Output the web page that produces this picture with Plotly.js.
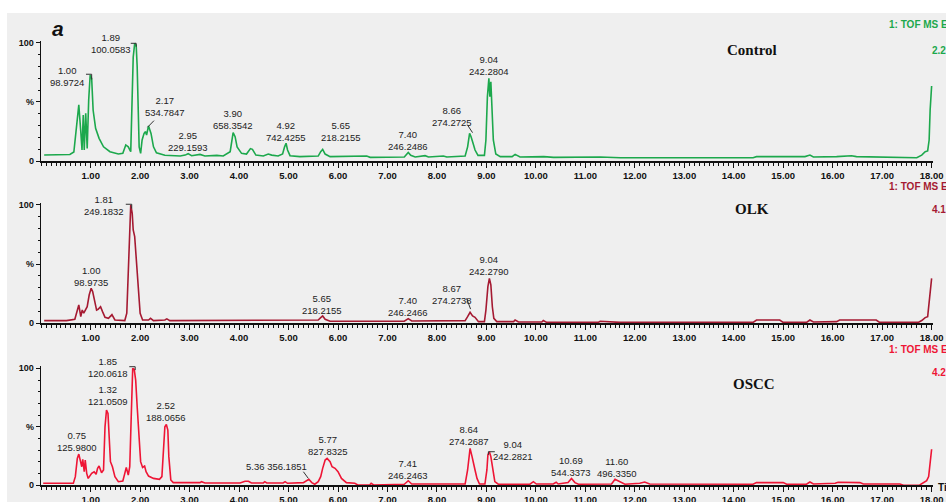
<!DOCTYPE html>
<html><head><meta charset="utf-8">
<script src="https://cdn.plot.ly/plotly-3.0.1.min.js"></script>
<style>html,body{margin:0;padding:0;background:#fff;}#chart{width:946px;height:502px;}</style>
</head><body><div id="chart"></div>
<script>
// ---- data: [retention time (min), relative intensity (%)] ----
const controlPts = [[0.06,5.1],[0.58,5.5],[0.66,7.6],[0.72,29],[0.76,47.5],[0.80,25],[0.825,9.3],[0.85,39],[0.87,9.3],[0.90,40.4],[0.93,10.7],[0.96,51.7],[0.99,72.9],[1.02,70],[1.05,43],[1.10,27.7],[1.17,19.2],[1.26,12],[1.39,7.9],[1.56,5.9],[1.65,6.5],[1.71,13.6],[1.76,12],[1.81,7.9],[1.84,51.7],[1.86,88],[1.89,99.7],[1.92,98],[1.94,80],[1.96,43],[1.98,12],[2.01,6.5],[2.04,17.8],[2.08,23.4],[2.11,24.9],[2.13,22],[2.17,29.7],[2.22,23.4],[2.27,12],[2.33,7],[2.50,4.8],[2.81,4.2],[2.91,5],[2.97,6.2],[3.04,4.5],[3.21,5.6],[3.31,4.2],[3.55,4.8],[3.68,4.2],[3.82,7.9],[3.85,17.8],[3.88,24],[3.92,20.6],[3.96,12],[4.05,6.5],[4.15,5.9],[4.23,10.5],[4.27,9.9],[4.34,5],[4.49,4.2],[4.59,5.9],[4.66,5],[4.79,4.2],[4.88,5.9],[4.92,12],[4.95,15],[4.98,9.3],[5.03,4.5],[5.23,3.7],[5.60,4.2],[5.65,7.9],[5.69,9.9],[5.74,5.9],[5.84,3.7],[6.58,4.2],[6.65,3.1],[7.34,3.4],[7.39,5.9],[7.42,7.3],[7.47,4.8],[7.56,3.4],[7.76,4.5],[7.83,3.4],[8.13,4.2],[8.20,3.4],[8.57,4.2],[8.62,12],[8.66,23.4],[8.69,20.6],[8.73,15],[8.77,9.3],[8.83,4.8],[8.96,4.8],[8.99,17.8],[9.02,54.5],[9.05,70],[9.07,54.5],[9.09,67.2],[9.12,37.6],[9.14,17.8],[9.19,5.9],[9.28,3.7],[9.52,3.7],[9.58,5.6],[9.68,3.4],[10.16,3.7],[10.36,3.1],[11.30,3.4],[11.71,2.8],[14.39,2.8],[14.46,3.7],[15.00,3.4],[15.44,3.7],[15.54,5],[15.61,3.4],[16.08,3.7],[16.28,4.5],[16.38,4.5],[16.48,3.7],[16.88,3.4],[16.95,2.8],[17.70,2.8],[17.80,5],[17.87,7.9],[17.92,8.5],[17.95,17.8],[17.97,43],[18.00,63.6]];

const olkPts = [[0.06,2.3],[0.51,2.3],[0.68,3.4],[0.73,11.2],[0.76,15.5],[0.80,5.6],[0.83,11.2],[0.86,8.5],[0.90,11.2],[0.93,14],[0.97,23.9],[1.01,29.6],[1.04,26.8],[1.08,19.7],[1.12,11.2],[1.15,11.8],[1.20,14],[1.24,9.9],[1.29,5.1],[1.36,4.2],[1.43,7.3],[1.49,2.8],[1.69,2.3],[1.73,8.5],[1.76,45],[1.79,84.5],[1.81,100],[1.84,93],[1.86,78.9],[1.89,73.2],[1.92,53.5],[1.96,28.2],[2.00,8.5],[2.05,2.8],[2.17,2.8],[2.21,4.2],[2.27,2.3],[2.50,2.8],[2.54,3.7],[2.60,2.3],[5.60,2.8],[5.65,4.8],[5.69,6.2],[5.74,3.4],[5.84,1.7],[7.34,1.7],[7.42,3.9],[7.49,2],[8.57,2.3],[8.62,5.6],[8.67,9.3],[8.72,6.2],[8.77,5.1],[8.84,1.4],[8.96,1.4],[8.99,11.2],[9.03,31],[9.06,38],[9.09,32.4],[9.12,14],[9.15,4.2],[9.21,1.4],[9.55,1.4],[9.58,2.8],[9.65,1.1],[10.12,1.1],[10.15,2.3],[10.22,0.8],[11.26,0.8],[11.30,1.7],[11.70,0.8],[14.39,0.8],[14.46,2.8],[14.93,2.8],[15.00,0.8],[15.47,0.8],[15.54,2.8],[15.61,1.1],[16.08,1.4],[16.14,2.8],[16.88,2.8],[16.95,0.8],[17.73,0.8],[17.80,2.3],[17.87,4.8],[17.92,5.6],[17.95,16.9],[17.98,28.2],[18.00,38]];

const osccPts = [[0.04,1.7],[0.65,1.7],[0.69,7.4],[0.73,23],[0.76,26.7],[0.79,20.2],[0.82,15.9],[0.84,22.1],[0.87,11.6],[0.89,21.6],[0.92,10.2],[0.95,5.9],[1.02,10.2],[1.07,11.6],[1.11,9.4],[1.14,14.5],[1.17,16.5],[1.22,10.8],[1.26,13.1],[1.29,50],[1.32,64.4],[1.35,61.5],[1.38,41.6],[1.40,20.2],[1.44,15.9],[1.49,7.4],[1.56,3.1],[1.65,3.7],[1.69,10.2],[1.72,15.3],[1.76,8.8],[1.79,15.9],[1.82,58.6],[1.85,100],[1.88,99.2],[1.91,90],[1.94,67.4],[1.98,38.9],[2.01,20.2],[2.05,15.3],[2.09,16.5],[2.12,11.6],[2.17,7.9],[2.27,5.9],[2.39,5.1],[2.44,7.4],[2.47,30.2],[2.50,50],[2.53,52],[2.56,47.2],[2.58,24.5],[2.62,4.6],[2.67,2.3],[3.21,2.3],[3.24,3.1],[3.31,2],[4.02,2],[4.12,3.4],[4.19,3.4],[4.25,2],[4.49,2],[4.52,3.1],[4.56,2],[4.89,2],[4.93,3.1],[4.98,1.7],[5.30,2.3],[5.37,4.6],[5.41,5.2],[5.47,2.3],[5.53,0.9],[5.60,3.1],[5.65,7.4],[5.69,14.5],[5.74,21.6],[5.78,23],[5.84,20.2],[5.88,15.9],[5.94,14.5],[6.00,11.6],[6.07,5.9],[6.17,2.3],[6.34,1.7],[6.40,0.3],[6.64,0.3],[6.67,1.7],[6.72,0.3],[7.34,0.9],[7.42,3.9],[7.49,1.1],[8.57,1.1],[8.62,13.1],[8.65,28.7],[8.67,31.6],[8.71,24.5],[8.74,17.4],[8.77,13.1],[8.81,5.9],[8.86,1.1],[8.97,1.1],[9.01,13.1],[9.03,25.9],[9.06,28.7],[9.09,24.5],[9.13,11.6],[9.17,3.1],[9.24,0.9],[9.88,0.9],[9.95,3.1],[10.01,1.1],[10.35,1.1],[10.41,2.6],[10.45,1.1],[10.65,2.3],[10.72,5.9],[10.79,2.3],[10.86,0.9],[11.53,1.1],[11.60,5.2],[11.66,4],[11.73,2.3],[11.80,0.9],[12.10,1.7],[12.20,2.8],[12.30,1.1],[14.39,0.9],[14.46,2.3],[15.00,2.3],[15.07,0.9],[15.47,0.9],[15.54,2.8],[15.61,1.1],[16.05,1.7],[16.11,2.6],[16.55,2.3],[16.62,1.1],[17.36,1.1],[17.43,0],[17.76,0.3],[17.83,2.3],[17.90,4],[17.94,7.4],[17.97,18.8],[18.00,30.8]];

// peak labels: [retention time text, m/z text]
const controlPeaks = [['1.00','98.9724'],['1.89','100.0583'],['2.17','534.7847'],['2.95','229.1593'],['3.90','658.3542'],['4.92','742.4255'],['5.65','218.2155'],['7.40','246.2486'],['8.66','274.2725'],['9.04','242.2804']];
const olkPeaks = [['1.81','249.1832'],['1.00','98.9735'],['5.65','218.2155'],['7.40','246.2466'],['8.67','274.2738'],['9.04','242.2790']];
const osccPeaks = [['1.85','120.0618'],['1.32','121.0509'],['2.52','188.0656'],['0.75','125.9800'],['5.36','356.1851'],['5.77','827.8325'],['7.41','246.2463'],['8.64','274.2687'],['9.04','242.2821'],['10.69','544.3373'],['11.60','496.3350']];

const panelNames = ['Control','OLK','OSCC'];
const panelScale = ['2.20e6','4.10e6','4.21e6'];
const xTickVals = [1,2,3,4,5,6,7,8,9,10,11,12,13,14,15,16,17,18];
const yTickVals = [0,50,100];
const yTickText = ['0','%','100'];

// ---- layout / positions ----
const controlLabelPos = [[0.52,72],[1.42,99.3],[2.51,46.3],[2.97,16.5],[3.88,35.3],[4.94,24.8],[6.07,24.6],[7.42,17.1],[8.30,38],[9.06,80.7]];
const olkLabelPos = [[1.27,99.3],[1.01,39.8],[5.67,16.1],[7.42,14.4],[8.30,24.6],[9.06,48.6]];
const osccLabelPos = [[1.36,100.4],[1.36,76.9],[2.52,63.3],[0.72,37.3],[4.76,15.9],[5.80,34],[7.42,13.1],[8.65,42.7],[9.54,29.5],[10.72,16.2],[11.63,15.6]];

const colors = ['#1ca84c','#a51a32','#ee1535'];
const W = 946, H = 502;
const xDomain = [41.2/W, 933.1/W];
const yDomains = [[1-161/H, 1-40.6/H],[1-323.3/H, 1-202.6/H],[1-485.3/H, 1-366/H]];
const allPts = [controlPts, olkPts, osccPts];
const allPeaks = [controlPeaks, olkPeaks, osccPeaks];
const allPos = [controlLabelPos, olkLabelPos, osccLabelPos];

const lblFont = {family:'Liberation Sans, Arial, sans-serif', size:9.5, color:'#222'};
const traces = [], annotations = [], shapes = [];
const layout = {
  width: W, height: H, margin:{l:0,r:0,t:0,b:0},
  paper_bgcolor:'#ffffff', plot_bgcolor:'rgba(0,0,0,0)', showlegend:false
};
shapes.push({type:'rect', xref:'paper', yref:'paper', x0:7/W, x1:1, y0:0, y1:1-13/H, fillcolor:'#efefef', line:{width:0}, layer:'below'});

for (let p = 0; p < 3; p++) {
  const sfx = p === 0 ? '' : String(p+1);
  traces.push({
    type:'scatter', mode:'lines',
    x: allPts[p].map(d => d[0]), y: allPts[p].map(d => d[1]),
    xaxis:'x'+sfx, yaxis:'y'+sfx,
    line:{color:colors[p], width:1.6}, hoverinfo:'skip'
  });
  layout['xaxis'+sfx] = {
    domain:xDomain, range:[0,18.03], anchor:'y'+sfx,
    showline:true, linecolor:'#111', linewidth:1.6, showgrid:false, zeroline:false,
    tickmode:'array', tickvals:xTickVals, ticktext:xTickVals.map(v => v.toFixed(2)),
    ticks:'outside', ticklen:5, tickwidth:1, tickcolor:'#111',
    tickfont:{family:'Liberation Sans, Arial, sans-serif', size:9.5, color:'#111', weight:'bold'},
    minor:{tickmode:'linear', tick0:0, dtick:0.1, ticks:'outside', ticklen:3, tickwidth:1, tickcolor:'#111', showgrid:false},
    fixedrange:true
  };
  layout['yaxis'+sfx] = {
    domain:yDomains[p], range:[0,102], anchor:'x'+sfx,
    showline:true, linecolor:'#111', linewidth:1.5, showgrid:false, zeroline:false,
    tickmode:'array', tickvals:yTickVals, ticktext:yTickText,
    ticks:'outside', ticklen:4, tickwidth:1, tickcolor:'#111',
    tickfont:{family:'Liberation Sans, Arial, sans-serif', size:9, color:'#111', weight:'bold'},
    minor:{tickmode:'linear', tick0:0, dtick:10, ticks:'outside', ticklen:2, tickwidth:1, tickcolor:'#111', showgrid:false},
    fixedrange:true
  };
  allPeaks[p].forEach((pk, i) => {
    const txt = (p === 2 && pk[0] === '5.36') ? pk[0] + ' ' + pk[1] : pk[0] + '<br>' + pk[1];
    annotations.push({xref:'x'+sfx, yref:'y'+sfx, x:allPos[p][i][0], y:allPos[p][i][1],
      text:txt, showarrow:false, font:lblFont, xanchor:'center', yanchor:'middle', align:'center'});
  });
  const topY = yDomains[p][1];
  const yScalePx = [1-50/H, 1-209.3/H, 1-372.7/H][p];
  const yTofPx = [1-25/H, 1-186.7/H, 1-349/H][p];
  const yNamePx = [1-50/H, 1-209.3/H, 1-384/H][p];
  annotations.push({xref:'paper', yref:'paper', x:886.7/W, y:yTofPx, xanchor:'left', yanchor:'middle', showarrow:false,
    text:'1: TOF MS ES+', font:{family:'Liberation Sans, Arial, sans-serif', size:10, color:colors[p], weight:'bold'}});
  annotations.push({xref:'paper', yref:'paper', x:930/W, y:yScalePx, xanchor:'left', yanchor:'middle', showarrow:false,
    text:panelScale[p], font:{family:'Liberation Sans, Arial, sans-serif', size:10, color:colors[p], weight:'bold'}});
  annotations.push({xref:'paper', yref:'paper', x:[752,751.7,754][p]/W, y:yNamePx, xanchor:'center', yanchor:'middle', showarrow:false,
    text:panelNames[p], font:{family:'Liberation Serif, Times New Roman, serif', size:15, color:'#111', weight:'bold'}});
}

// label brackets / leader lines (decoration)
const leaders = [
  ['', [[0.905,73.5],[1.02,73.5],[1.02,69]]],
  ['', [[1.81,99.7],[1.92,99.7],[1.92,96.8]]],
  ['', [[2.15,28.6],[2.28,34.2]]],
  ['', [[8.63,29.7],[8.72,24]]],
  ['2', [[1.71,100.6],[1.83,100.6],[1.83,97]]],
  ['2', [[8.60,21],[8.68,12]]],
  ['3', [[1.78,101.4],[1.90,101.4],[1.90,98.5]]],
  ['3', [[5.30,11.6],[5.40,5.9]]],
  ['3', [[9.04,26],[9.04,28.7],[9.17,28.7]]]
];
leaders.forEach(l => {
  const pts = l[1];
  let path = 'M' + pts.map(q => q[0] + ',' + q[1]).join(' L');
  shapes.push({type:'path', xref:'x'+l[0], yref:'y'+l[0], path:path, line:{color:'#333', width:1}});
});

annotations.push({xref:'paper', yref:'paper', x:58/W, y:1-29/H, xanchor:'center', yanchor:'middle', showarrow:false,
  text:'<b><i>a</i></b>', font:{family:'Liberation Sans, Arial, sans-serif', size:21, color:'#111'}});
annotations.push({xref:'paper', yref:'paper', x:936/W, y:1-487/H, xanchor:'left', yanchor:'middle', showarrow:false,
  text:'Time', font:{family:'Liberation Sans, Arial, sans-serif', size:10, color:'#111', weight:'bold'}});

layout.annotations = annotations;
layout.shapes = shapes;
Plotly.newPlot('chart', traces, layout, {staticPlot:true, displayModeBar:false});
</script></body></html>
